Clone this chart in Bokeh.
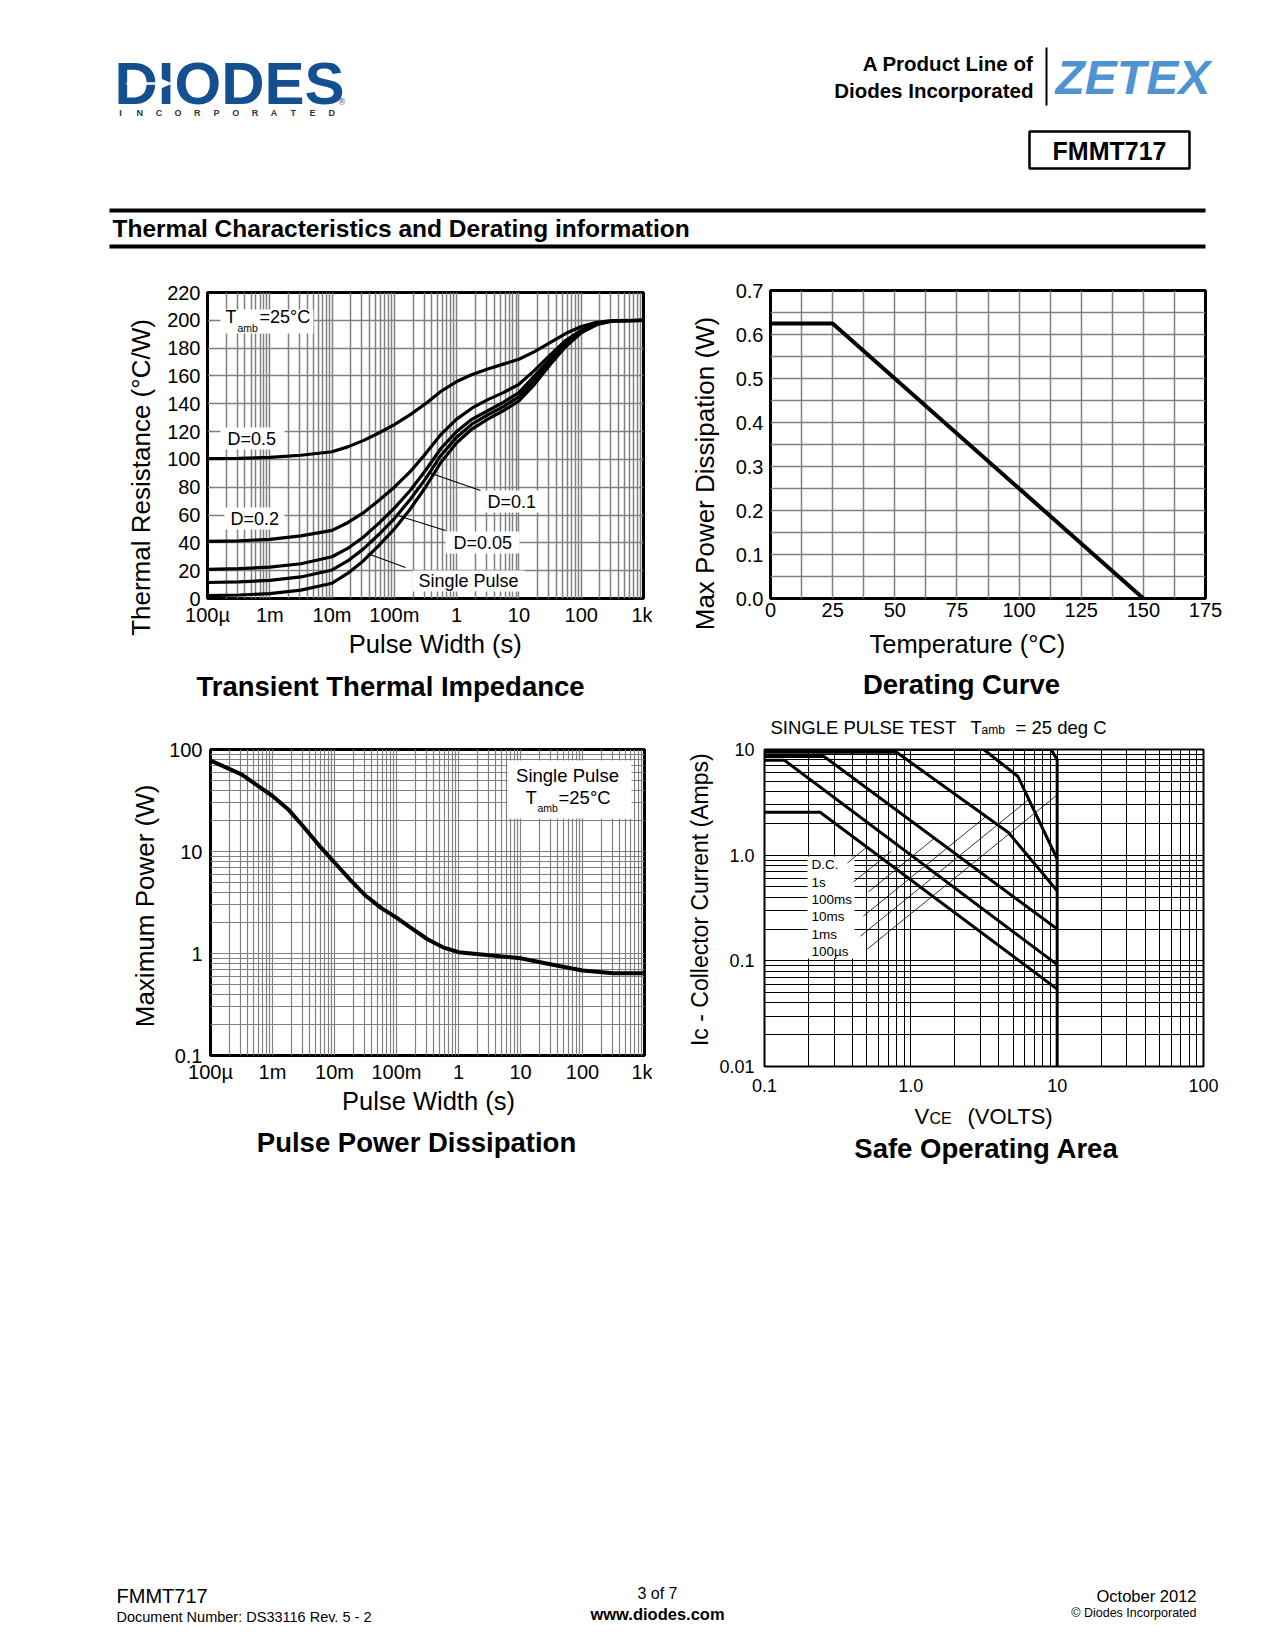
import math
from bokeh.plotting import figure
from bokeh.models import (Range1d, FixedTicker, CustomJSTickFormatter, PrintfTickFormatter,
                          Label, BoxAnnotation)
from bokeh.layouts import column, row
from bokeh.embed import file_html
from bokeh.resources import INLINE
from bokeh.core.properties import value

FONT = "Liberation Sans"
GRID_GRAY = "#808080"
LOGO_BLUE = "#14508f"
ZETEX_BLUE = "#4f93d2"
PAGE_W = 1270

# ---------------- data ----------------
# Transient thermal impedance (deg C/W) versus pulse width (s)
tti_width = [1e-4, 3.16e-4, 1e-3, 3.16e-3, 1e-2, 1.78e-2, 3.16e-2, 5.62e-2, 0.1, 0.178, 0.316, 0.562,
             1, 1.78, 3.16, 5.62, 10, 17.8, 31.6, 56.2, 100, 178, 316, 1000]
tti_d05 = [100.5, 100.7, 101.5, 103, 105.5, 109, 113.5, 119, 125, 132, 140, 149,
           156, 161, 165, 168.5, 172, 177.5, 184, 190.5, 195.5, 198.5, 199.8, 200]
tti_d02 = [41, 41.5, 42.5, 45, 49, 54.5, 61.5, 70.5, 80, 91, 104, 118,
           129, 137, 143, 148, 154, 164, 175, 185.5, 193, 198, 199.7, 200]
tti_d01 = [21, 21.5, 22.5, 25, 30, 36, 44, 54, 65, 77.5, 92, 108,
           120, 129, 135, 141, 148, 160, 172, 183.5, 192, 197.5, 199.5, 200]
tti_d005 = [11.5, 12, 13, 15.5, 20.5, 27, 35.5, 46, 57.5, 71, 86, 103,
            116, 125.5, 132, 138, 145, 157, 170, 182, 191.5, 197, 199.5, 200]
tti_single = [2, 2.5, 3.5, 6, 11, 18, 27, 38, 50, 64, 80, 98,
              112, 122, 129, 135, 142, 154, 168, 181, 191, 197, 199.5, 200]
tti_yticks = [0, 20, 40, 60, 80, 100, 120, 140, 160, 180, 200, 220]
tti_labels = ["D=0.5", "D=0.2", "D=0.1", "D=0.05", "Single Pulse"]

# Derating curve
der_temp = [0, 25, 150]
der_power = [0.625, 0.625, 0.0]
der_xticks = [0, 25, 50, 75, 100, 125, 150, 175]
der_yticks = [0.0, 0.1, 0.2, 0.3, 0.4, 0.5, 0.6, 0.7]

# Pulse power dissipation (W) versus pulse width (s)
ppd_width = [1e-4, 3.16e-4, 1e-3, 1.78e-3, 3.16e-3, 5.62e-3, 1e-2, 1.78e-2, 3.16e-2, 5.62e-2,
             0.1, 0.178, 0.316, 0.562, 1, 3.16, 10, 31.6, 100, 316, 1000]
ppd_power = [78, 57, 35, 26, 17.5, 11.5, 7.8, 5.3, 3.7, 2.8,
             2.25, 1.75, 1.38, 1.15, 1.03, 0.96, 0.9, 0.78, 0.68, 0.64, 0.64]

# Safe operating area (VCE in V, IC in A)
soa_names = ["D.C.", "1s", "100ms", "10ms", "1ms", "100\u00b5s"]
soa_v = [
    [0.1, 0.24, 10],
    [0.1, 0.137, 10],
    [0.1, 0.255, 10],
    [0.1, 0.8, 4.64, 10],
    [0.1, 3.15, 5.4, 10],
    [0.1, 9.1, 10, 10],
]
soa_i = [
    [2.55, 2.55, 0.054],
    [7.9, 7.9, 0.092],
    [8.6, 8.6, 0.2],
    [9.4, 9.4, 1.64, 0.46],
    [10, 10, 5.55, 0.92],
    [10, 10, 8.0, 0.01],
]
soa_lead_v0 = [0.369, 0.406, 0.512, 0.474, 0.452, 0.504]
soa_lead_i0 = [0.845, 0.558, 0.448, 0.265, 0.171, 0.129]
soa_lead_v1 = [0.50, 0.738, 1.45, 3.27, 6.4, 10.0]
soa_lead_i1 = [1.19, 1.09, 1.45, 2.33, 3.37, 3.72]


# ---------------- helpers ----------------
class Frame:
    def __init__(self, x0, x1, yt, yb, xr, yr, xlog, ylog):
        self.x0, self.x1, self.yt, self.yb = x0, x1, yt, yb
        self.xr, self.yr, self.xlog, self.ylog = xr, yr, xlog, ylog

    @staticmethod
    def _map(f, r, log):
        a, b = r
        if log:
            return 10 ** (math.log10(a) + f * (math.log10(b) - math.log10(a)))
        return a + f * (b - a)

    def X(self, px):
        return self._map((px - self.x0) / (self.x1 - self.x0), self.xr, self.xlog)

    def Y(self, py):
        return self._map((self.yb - py) / (self.yb - self.yt), self.yr, self.ylog)


def decades(lo, hi):
    return [10.0 ** e for e in range(lo, hi + 1)]


def minors(lo, hi):
    return [m * 10.0 ** e for e in range(lo, hi) for m in range(2, 10)]


def make_chart(fr, fx0, fx1, fy0, fy1):
    wtot = fx1 - fx0
    htot = fy1 - fy0
    bl = fr.x0 - fx0
    bt = fr.yt - fy0
    fw = fr.x1 - fr.x0
    fh = fr.yb - fr.yt
    br = wtot - bl - fw
    bb = htot - bt - fh
    p = figure(width=wtot, height=htot, frame_width=fw, frame_height=fh,
               min_border_left=bl, min_border_right=br, min_border_top=bt, min_border_bottom=bb,
               x_axis_type="log" if fr.xlog else "linear",
               y_axis_type="log" if fr.ylog else "linear",
               x_range=Range1d(*fr.xr), y_range=Range1d(*fr.yr),
               toolbar_location=None, output_backend="svg")
    p.outline_line_color = "black"
    p.outline_line_width = 3
    p.border_fill_color = "white"
    p.background_fill_color = "white"
    for ax in p.axis:
        ax.axis_line_color = None
        ax.major_tick_line_color = None
        ax.minor_tick_line_color = None
        ax.major_tick_out = 0
        ax.major_tick_in = 0
        ax.minor_tick_out = 0
        ax.minor_tick_in = 0
        ax.major_label_text_font = FONT
        ax.major_label_text_font_size = "20px"
        ax.major_label_text_color = "black"
    return p


def set_ticks(p, dim, ticks, minor, fmt=None):
    t = FixedTicker(ticks=ticks, minor_ticks=minor)
    ax = p.xaxis[0] if dim == "x" else p.yaxis[0]
    g = p.xgrid[0] if dim == "x" else p.ygrid[0]
    ax.ticker = t
    g.ticker = t
    if fmt is not None:
        ax.formatter = fmt


def style_grid(p, color, width):
    for g in (p.xgrid[0], p.ygrid[0]):
        g.grid_line_color = color
        g.grid_line_width = width
        g.minor_grid_line_color = color
        g.minor_grid_line_width = width


def flab(p, fr, px, py, text, size, bold=False, align="left"):
    """Text annotation inside a chart frame, positioned in page pixels (vertical centre)."""
    p.add_layout(Label(x=px - fr.x0, y=fr.yb - py, x_units="screen", y_units="screen",
                       text=text, text_font=FONT, text_font_size=f"{size}px",
                       text_font_style="bold" if bold else "normal",
                       text_align=align, text_baseline="middle", text_color="black"))


def white_box(p, fr, l, r, t, b):
    p.add_layout(BoxAnnotation(left=fr.X(l), right=fr.X(r), top=fr.Y(t), bottom=fr.Y(b),
                               fill_color="white", fill_alpha=1.0, line_color=None,
                               level="underlay"))


def log_fmt(mapping):
    items = ", ".join(f'"{k}": "{v}"' for k, v in mapping.items())
    return CustomJSTickFormatter(code="const m = {" + items + "};\nreturn m[Math.round(Math.log10(tick))];")


PW_MAP = {-4: "100\u00b5", -3: "1m", -2: "10m", -1: "100m", 0: "1", 1: "10", 2: "100", 3: "1k"}


def page_fig(x0, x1, y0, y1):
    p = figure(width=x1 - x0, height=y1 - y0, x_range=Range1d(x0, x1), y_range=Range1d(y1, y0),
               x_axis_type=None, y_axis_type=None, toolbar_location=None,
               output_backend="svg", min_border=0)
    p.outline_line_color = None
    p.border_fill_color = "white"
    p.background_fill_color = "white"
    return p


def ptext(p, x, y, text, size, bold=False, italic=False, align="left",
          color="black", angle=0.0):
    style = "bold italic" if (bold and italic) else ("bold" if bold else ("italic" if italic else "normal"))
    p.text(x=[x], y=[y], text=[text], text_font=value(FONT), text_font_size=value(f"{size}px"),
           text_font_style=style, text_align=align, text_baseline="middle", text_color=color,
           angle=angle)


# ---------------- chart 1 : transient thermal impedance ----------------
fr1 = Frame(207, 643, 292, 598, (1e-4, 1e3), (0, 220), True, False)
p1 = make_chart(fr1, 158, 652, 260, 628)
set_ticks(p1, "x", decades(-4, 3), minors(-4, 3), log_fmt(PW_MAP))
set_ticks(p1, "y", tti_yticks, [])
style_grid(p1, GRID_GRAY, 1.5)
p1.xaxis.major_label_standoff = 5
p1.yaxis.major_label_standoff = 7

white_box(p1, fr1, 220, 313, 309, 333)
white_box(p1, fr1, 220, 284, 427, 449)
white_box(p1, fr1, 224, 284, 507, 529)
white_box(p1, fr1, 480, 542, 490, 512)
white_box(p1, fr1, 445, 519, 531, 553)
white_box(p1, fr1, 412, 524, 570, 591)

for ys in (tti_d05, tti_d02, tti_d01, tti_d005, tti_single):
    p1.line(tti_width, ys, line_color="black", line_width=3.2)

p1.segment(x0=[fr1.X(480), fr1.X(445), fr1.X(405)], y0=[fr1.Y(490), fr1.Y(530), fr1.Y(567)],
           x1=[fr1.X(428), fr1.X(397), fr1.X(367)], y1=[fr1.Y(472), fr1.Y(515), fr1.Y(553)],
           line_color="black", line_width=1.2)

flab(p1, fr1, 225, 316, "T", 18)
flab(p1, fr1, 237, 327, "amb", 10.5)
flab(p1, fr1, 259, 316, "=25\u00b0C", 18)
flab(p1, fr1, 227, 438, tti_labels[0], 18)
flab(p1, fr1, 230, 518, tti_labels[1], 18)
flab(p1, fr1, 487, 501, tti_labels[2], 18)
flab(p1, fr1, 453, 542, tti_labels[3], 18)
flab(p1, fr1, 418, 580, tti_labels[4], 18)

# ---------------- chart 2 : derating curve ----------------
fr2 = Frame(770, 1205, 290, 598, (0, 175), (0, 0.7), False, False)
p2 = make_chart(fr2, 722, PAGE_W, 260, 628)
set_ticks(p2, "x", der_xticks, [12.5 + 25 * k for k in range(7)])
set_ticks(p2, "y", der_yticks, [0.05 + 0.1 * k for k in range(7)], PrintfTickFormatter(format="%.1f"))
style_grid(p2, GRID_GRAY, 1.5)
p2.xaxis.major_label_standoff = 4
p2.yaxis.major_label_standoff = 7
p2.line(der_temp, der_power, line_color="black", line_width=4)

# ---------------- chart 3 : pulse power dissipation ----------------
fr3 = Frame(210, 644, 749, 1055, (1e-4, 1e3), (0.1, 100), True, True)
p3 = make_chart(fr3, 162, 652, 735, 1084)
set_ticks(p3, "x", decades(-4, 3), minors(-4, 3), log_fmt(PW_MAP))
set_ticks(p3, "y", decades(-1, 2), minors(-1, 2), log_fmt({-1: "0.1", 0: "1", 1: "10", 2: "100"}))
style_grid(p3, GRID_GRAY, 1.2)
p3.xaxis.major_label_standoff = 5
p3.yaxis.major_label_standoff = 8

white_box(p3, fr3, 507, 631, 760, 818)
p3.line(ppd_width, ppd_power, line_color="black", line_width=4)

flab(p3, fr3, 567, 775, "Single Pulse", 18.5, align="center")
flab(p3, fr3, 525, 797, "T", 18.5)
flab(p3, fr3, 537, 807, "amb", 10.5)
flab(p3, fr3, 558, 797, "=25\u00b0C", 18.5)

# ---------------- chart 4 : safe operating area ----------------
fr4 = Frame(764, 1203, 749, 1066, (0.1, 100), (0.01, 10), True, True)
p4 = make_chart(fr4, 714, PAGE_W, 738, 1101)
p4.outline_line_width = 2
set_ticks(p4, "x", decades(-1, 2), minors(-1, 2), log_fmt({-1: "0.1", 0: "1.0", 1: "10", 2: "100"}))
set_ticks(p4, "y", decades(-2, 1), minors(-2, 1), log_fmt({-2: "0.01", -1: "0.1", 0: "1.0", 1: "10"}))
style_grid(p4, "black", 1)
for ax in p4.axis:
    ax.major_label_text_font_size = "18px"
p4.xaxis.major_label_standoff = 12
p4.yaxis.major_label_standoff = 10

white_box(p4, fr4, 807, 854, 856, 958)
for vs, cs in zip(soa_v, soa_i):
    p4.line(vs, cs, line_color="black", line_width=3)
p4.segment(x0=soa_lead_v0, y0=soa_lead_i0, x1=soa_lead_v1, y1=soa_lead_i1,
           line_color="black", line_width=0.8)
for k, name in enumerate(soa_names):
    flab(p4, fr4, 811, [864, 882, 899, 916, 934, 951][k], name, 13.5)

# ---------------- text strips around the charts ----------------
lab1 = page_fig(0, 158, 260, 659)
ptext(lab1, 140, 477, "Thermal Resistance (\u00b0C/W)", 26, align="center", angle=math.pi / 2)
stripA1 = page_fig(158, 652, 628, 659)
ptext(stripA1, 416, 643, "Pulse Width (s)", 25.5, align="center")

lab2 = page_fig(652, 722, 260, 659)
ptext(lab2, 704, 473, "Max Power Dissipation (W)", 26, align="center", angle=math.pi / 2)
stripA2 = page_fig(722, PAGE_W, 628, 659)
ptext(stripA2, 970, 643, "Temperature (\u00b0C)", 25.5, align="center")

stripBL = page_fig(0, 652, 659, 735)
ptext(stripBL, 390, 686, "Transient Thermal Impedance", 27.5, bold=True, align="center")

stripBR = page_fig(652, PAGE_W, 659, 738)
ptext(stripBR, 961, 684, "Derating Curve", 27.5, bold=True, align="center")
ptext(stripBR, 770, 726.5, "SINGLE PULSE TEST", 18.5)
ptext(stripBR, 970, 726.5, "T", 18.5)
ptext(stripBR, 981, 729, "amb", 12)
ptext(stripBR, 1015, 726.5, "= 25 deg C", 18.5)

lab3 = page_fig(0, 162, 735, 1084)
ptext(lab3, 144, 914, "Maximum Power (W)", 26, align="center", angle=math.pi / 2)
stripDL = page_fig(0, 652, 1084, 1170)
ptext(stripDL, 428, 1099, "Pulse Width (s)", 25.5, align="center")
ptext(stripDL, 416, 1141, "Pulse Power Dissipation", 27.5, bold=True, align="center")

lab4 = page_fig(652, 714, 738, 1101)
ptext(lab4, 699, 910, "Ic - Collector Current (Amps)", 23, align="center", angle=math.pi / 2)
stripDR = page_fig(652, PAGE_W, 1101, 1170)
ptext(stripDR, 914, 1116, "V", 22)
ptext(stripDR, 929, 1118, "CE", 16)
ptext(stripDR, 967, 1116, "(VOLTS)", 22)
ptext(stripDR, 986, 1148, "Safe Operating Area", 27.5, bold=True, align="center")

# ---------------- header ----------------
hdr = page_fig(0, PAGE_W, 0, 260)
ptext(hdr, 114, 83, "DIODES", 60, bold=True, color=LOGO_BLUE)
hdr.segment(x0=[126], y0=[83], x1=[161], y1=[83], line_color="white", line_width=2.5)
hdr.patch([159, 171, 159], [78, 83, 88], color="white")
ptext(hdr, 338, 101, "\u00ae", 9, color=LOGO_BLUE)
incorp = "INCORPORATED"
hdr.text(x=[120 + 19.2 * i for i in range(len(incorp))], y=[112] * len(incorp),
         text=list(incorp), text_font=value(FONT), text_font_size=value("9px"),
         text_font_style="bold", text_align="center", text_baseline="middle",
         text_color="#333333")

ptext(hdr, 1033, 63, "A Product Line of", 20.5, bold=True, align="right")
ptext(hdr, 1033, 90, "Diodes Incorporated", 20.5, bold=True, align="right")
hdr.segment(x0=[1046], y0=[47], x1=[1046], y1=[105], line_color="black", line_width=2)
ptext(hdr, 1055, 77, "ZETEX", 48, bold=True, italic=True, color=ZETEX_BLUE)

hdr.quad(left=[1029], right=[1189], top=[131], bottom=[168], fill_color=None,
         line_color="black", line_width=2.5)
ptext(hdr, 1109, 150, "FMMT717", 25, bold=True, align="center")

hdr.segment(x0=[109, 109], y0=[210, 246], x1=[1205, 1205], y1=[210, 246],
            line_color="black", line_width=4)
ptext(hdr, 112, 228, "Thermal Characteristics and Derating information", 24.5, bold=True)

# ---------------- footer ----------------
ftr = page_fig(0, PAGE_W, 1170, 1645)
ptext(ftr, 116, 1594, "FMMT717", 20)
ptext(ftr, 116, 1615, "Document Number: DS33116 Rev. 5 - 2", 14.5)
ptext(ftr, 657, 1592, "3 of 7", 16, align="center")
ptext(ftr, 657, 1612, "www.diodes.com", 16.5, bold=True, align="center")
ptext(ftr, 1196, 1594, "October 2012", 16.5, align="right")
ptext(ftr, 1196, 1611, "\u00a9 Diodes Incorporated", 12.5, align="right")

colL = column(row(lab1, column(p1, stripA1)), stripBL, row(lab3, p3), stripDL)
colR = column(row(lab2, column(p2, stripA2)), stripBR, row(lab4, p4), stripDR)
layout = column(hdr, row(colL, colR), ftr)
open("out.html", "w").write(file_html(layout, INLINE, title="FMMT717 Thermal Characteristics"))
